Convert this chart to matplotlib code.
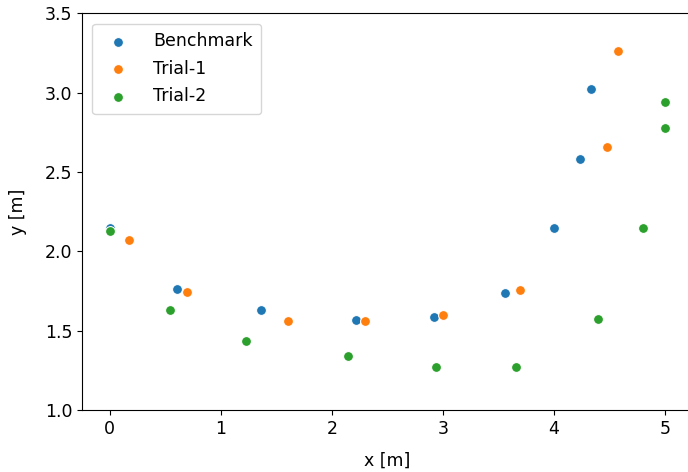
import matplotlib
matplotlib.use("Agg")
import matplotlib.pyplot as plt

bench_x = [0.0, 0.61, 1.36, 2.22, 2.92, 3.56, 4.0, 4.23, 4.33]
bench_y = [2.15, 1.76, 1.63, 1.57, 1.585, 1.735, 2.15, 2.585, 3.02]
trial1_x = [0.17, 0.695, 1.61, 2.30, 3.0, 3.69, 4.48, 4.575]
trial1_y = [2.07, 1.746, 1.563, 1.563, 1.598, 1.758, 2.656, 3.264]
trial2_x = [0.0, 0.545, 1.23, 2.15, 2.935, 3.655, 4.395, 4.805, 5.0, 5.0]
trial2_y = [2.128, 1.632, 1.437, 1.342, 1.275, 1.275, 1.573, 2.149, 2.78, 2.94]

series = [("Benchmark", bench_x, bench_y, "#1f77b4"),
          ("Trial-1", trial1_x, trial1_y, "#ff7f0e"),
          ("Trial-2", trial2_x, trial2_y, "#2ca02c")]

plt.rcParams['font.family'] = ['DejaVu Sans']
fig = plt.figure(figsize=(6.88, 4.72), dpi=100)
ax = fig.add_axes([0.119, 0.131, 0.888, 0.841])
for name, xs, ys, c in series:
    ax.scatter(xs, ys, s=50, color=c, edgecolor="white", linewidth=0.75, label=name)

ax.set_xlim(-0.25, 5.25)
ax.set_ylim(1.0, 3.5)
ax.set_xticks([0, 1, 2, 3, 4, 5])
ax.set_yticks([1.0, 1.5, 2.0, 2.5, 3.0, 3.5])
ax.spines['right'].set_visible(False)
ax.tick_params(labelsize=12.5)
ax.set_xlabel("x [m]", fontsize=12.5, labelpad=10)
ax.set_ylabel("y [m]", fontsize=12.5, labelpad=13)
ax.legend(loc="upper left", fontsize=12.5, handletextpad=1.0, labelspacing=0.55,
          borderaxespad=0.6, borderpad=0.5)
fig.savefig("out.png", dpi=100)
